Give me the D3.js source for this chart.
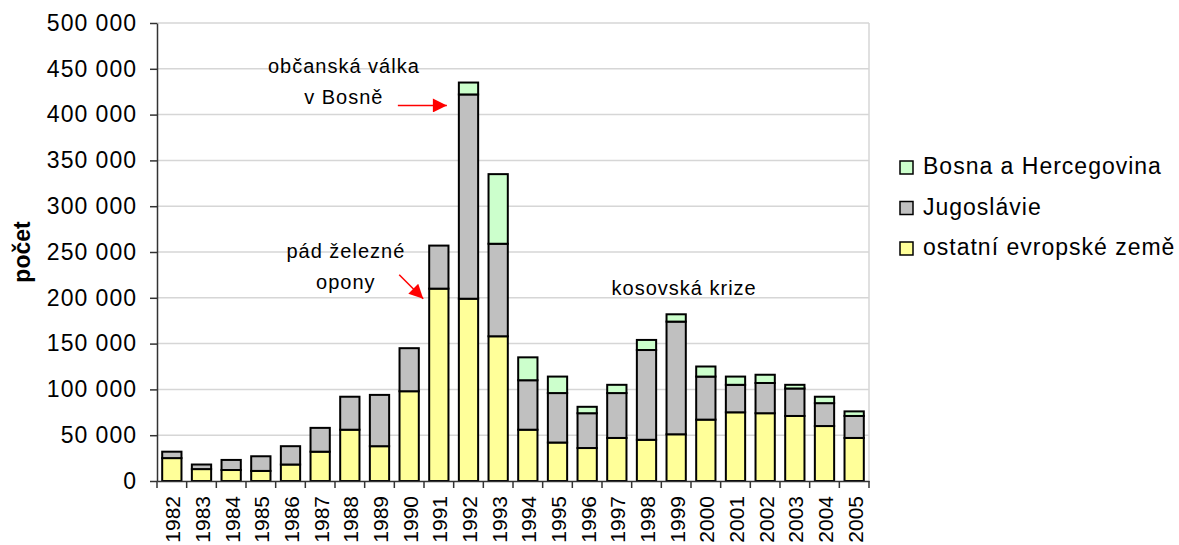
<!DOCTYPE html>
<html>
<head>
<meta charset="utf-8">
<script src="https://cdnjs.cloudflare.com/ajax/libs/d3/7.8.5/d3.min.js"></script>
<style>
    body { margin: 0; background: #fff; }
    svg { font-family: "Liberation Sans", Arial, sans-serif; }
</style>
</head>
<body>
<svg id="chart"></svg>
<script>
// data (counts)
const years = ["1982", "1983", "1984", "1985", "1986", "1987", "1988", "1989", "1990", "1991", "1992", "1993",
    "1994", "1995", "1996", "1997", "1998", "1999", "2000", "2001", "2002", "2003", "2004", "2005"];
const ostatni = [25000, 13000, 12000, 11000, 18000, 32000, 56000, 38000, 98000, 210000, 199000, 158000,
    56000, 42000, 36000, 47000, 45000, 51000, 67000, 75000, 74000, 71000, 60000, 47000];
const jugoslavie = [7000, 5000, 11000, 16000, 20000, 26000, 36000, 56000, 47000, 47000, 223000, 101000,
    54000, 54000, 38000, 49000, 98000, 123000, 47000, 30000, 33000, 30000, 25000, 24000];
const bosna = [0, 0, 0, 0, 0, 0, 0, 0, 0, 0, 13000, 76000,
    25000, 18000, 7000, 9000, 11000, 8000, 11000, 9000, 9000, 4000, 7000, 5000];
const yTicks = [0, 50000, 100000, 150000, 200000, 250000, 300000, 350000, 400000, 450000, 500000];

const seriesNames = ["ostatní evropské země", "Jugoslávie", "Bosna a Hercegovina"];
const seriesKeys = ["ostatni", "jugoslavie", "bosna"];
const colors = {ostatni: "#FFFF99", jugoslavie: "#C0C0C0", bosna: "#CCFFCC"};

const width = 1179, height = 545;
const margin = {top: 23, right: 310, bottom: 64, left: 157};
const plotW = width - margin.left - margin.right;
const plotH = height - margin.top - margin.bottom;

const svg = d3.select("#chart").attr("width", width).attr("height", height);
const g = svg.append("g").attr("transform", `translate(${margin.left}, ${margin.top})`);

const x = d3.scaleBand().domain(years).range([0, plotW]).paddingInner(0.35).paddingOuter(0.175);
const y = d3.scaleLinear().domain([0, 500000]).range([plotH, 0]);

const fmt = d3.formatLocale({decimal: ",", thousands: " ", grouping: [3], currency: ["", ""]}).format(",");

// gridlines
g.append("g").selectAll("line")
    .data(yTicks.filter(d => d > 0))
    .join("line")
    .attr("x1", 0).attr("x2", plotW)
    .attr("y1", d => y(d)).attr("y2", d => y(d))
    .attr("stroke", "#d6d6d6").attr("stroke-width", 1.5);

g.append("line")
    .attr("x1", plotW).attr("x2", plotW).attr("y1", 0).attr("y2", plotH)
    .attr("stroke", "#d6d6d6").attr("stroke-width", 1.5);

// stacked bars
const table = years.map((yr, i) => ({year: yr, ostatni: ostatni[i], jugoslavie: jugoslavie[i], bosna: bosna[i]}));
const stacked = d3.stack().keys(seriesKeys)(table);

g.append("g").selectAll("g")
    .data(stacked)
    .join("g")
    .attr("fill", d => colors[d.key])
    .selectAll("rect")
    .data(d => d.filter(p => p[1] - p[0] > 0))
    .join("rect")
    .attr("x", d => x(d.data.year))
    .attr("y", d => y(d[1]))
    .attr("width", x.bandwidth())
    .attr("height", d => y(d[0]) - y(d[1]))
    .attr("stroke", "#000")
    .attr("stroke-width", 2);

// y axis
const yAxis = g.append("g")
    .call(d3.axisLeft(y).tickValues(yTicks).tickFormat(fmt).tickSize(7).tickPadding(13).tickSizeOuter(0));
yAxis.select(".domain").attr("stroke", "#333").attr("stroke-width", 1.5);
yAxis.selectAll(".tick line").attr("stroke", "#333").attr("stroke-width", 1.5);
yAxis.selectAll("text")
    .attr("font-size", 23).attr("letter-spacing", 1).attr("fill", "#000")
    .attr("font-family", "Liberation Sans, Arial, sans-serif");

// x axis, ticks between categories
const xAxis = g.append("g")
    .attr("transform", `translate(0, ${plotH})`)
    .call(d3.axisBottom(x).tickSize(7).tickSizeOuter(0));
xAxis.select(".domain").attr("stroke", "#333").attr("stroke-width", 1.5);
xAxis.selectAll(".tick line")
    .attr("x1", -x.step() / 2).attr("x2", -x.step() / 2)
    .attr("stroke", "#333").attr("stroke-width", 1.5);
xAxis.append("line")
    .attr("x1", plotW).attr("x2", plotW).attr("y1", 0).attr("y2", 7)
    .attr("stroke", "#333").attr("stroke-width", 1.5);
xAxis.selectAll(".tick text")
    .attr("font-size", 21).attr("fill", "#000")
    .attr("font-family", "Liberation Sans, Arial, sans-serif")
    .attr("text-anchor", "end")
    .attr("dominant-baseline", "central")
    .attr("y", 0).attr("dy", null)
    .attr("transform", "translate(1, 15) rotate(-90)");

// y title
svg.append("text")
    .attr("transform", `translate(22, ${margin.top + plotH / 2}) rotate(-90)`)
    .attr("text-anchor", "middle")
    .attr("dominant-baseline", "central")
    .attr("font-size", 23).attr("font-weight", "bold")
    .text("počet");

// annotations
svg.append("defs").append("marker")
    .attr("id", "arrow")
    .attr("viewBox", "0 0 10 10")
    .attr("refX", 10).attr("refY", 5)
    .attr("markerWidth", 16).attr("markerHeight", 14)
    .attr("markerUnits", "userSpaceOnUse")
    .attr("orient", "auto")
    .append("path").attr("d", "M0,0 L10,5 L0,10 Z").attr("fill", "#ff0000");

const notes = [
    {lines: ["občanská válka", "v Bosně"], year: "1988", dx: -6, value: 445000},
    {lines: ["pád železné", "opony"], year: "1988", dx: -4, value: 243000},
    {lines: ["kosovská krize"], year: "1999", dx: 8, value: 203000}
];
const ann = g.append("g");
notes.forEach(n => {
    const cx = x(n.year) + x.bandwidth() / 2 + n.dx;
    const t = ann.append("text")
        .attr("text-anchor", "middle")
        .attr("font-size", 20).attr("letter-spacing", 1);
    n.lines.forEach((l, i) => {
        t.append("tspan").attr("x", cx).attr("y", y(n.value) + i * 31).text(l);
    });
});

const arrows = [
    {year: "1992", value: 410000, dx: -12, fromX: -49, fromY: 0},
    {year: "1991", value: 199000, dx: -6, fromX: -24, fromY: -24}
];
ann.selectAll("line.arrow")
    .data(arrows)
    .join("line")
    .attr("class", "arrow")
    .attr("x1", d => x(d.year) + d.dx + d.fromX)
    .attr("y1", d => y(d.value) + d.fromY)
    .attr("x2", d => x(d.year) + d.dx)
    .attr("y2", d => y(d.value))
    .attr("stroke", "#ff0000").attr("stroke-width", 1.5)
    .attr("marker-end", "url(#arrow)");

// legend
const legendOrder = [2, 1, 0];
const legend = svg.append("g").attr("transform", "translate(900, 161)");
legendOrder.forEach((si, i) => {
    const row = legend.append("g").attr("transform", `translate(0, ${i * 40.5})`);
    row.append("rect")
        .attr("x", 0).attr("y", 0).attr("width", 13).attr("height", 13)
        .attr("fill", colors[seriesKeys[si]])
        .attr("stroke", "#000").attr("stroke-width", 1.5);
    row.append("text")
        .attr("x", 23).attr("y", 13)
        .attr("font-size", 23).attr("letter-spacing", 1)
        .text(seriesNames[si]);
});
</script>
</body>
</html>
